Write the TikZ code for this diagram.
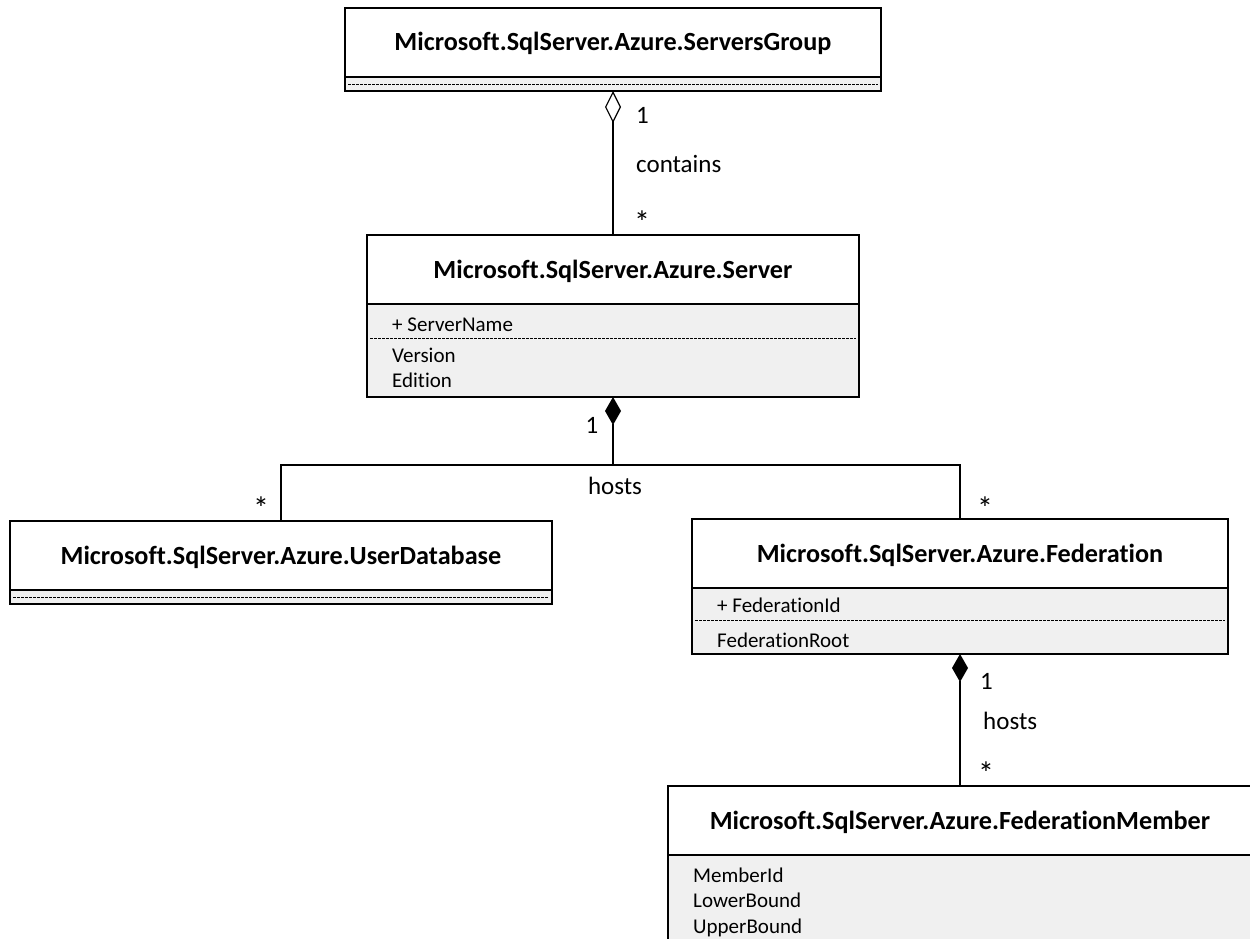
\documentclass[tikz,border=0pt]{standalone}
\usepackage{fontspec}
\setmainfont{Carlito}[Ligatures={NoCommon}]
\usetikzlibrary{arrows.meta}
\definecolor{compgray}{HTML}{F0F0F0}
\tikzset{
 umlbox/.style={draw=black, line width=1.4pt, inner sep=0pt, outer sep=0pt, anchor=north west},
 title/.style={font=\bfseries\fontsize{26.2}{30}\selectfont, anchor=base, inner sep=0pt},
 attr/.style={font=\fontsize{21}{25}\selectfont, anchor=base west, inner sep=0pt},
 lbl/.style={font=\fontsize{25}{30}\selectfont, anchor=base west, inner sep=0pt},
 star/.style={font=\fontsize{32}{36}\selectfont, anchor=base, inner sep=0pt},
 sepline/.style={line width=1.4pt},
 dsep/.style={line width=0.8pt, dash pattern=on 2.5pt off 1.5pt},
 conn/.style={line width=1.4pt},
 agg/.style={{Diamond[open,length=32pt,width=16pt,line width=1.2pt]}-},
 compo/.style={{Diamond[length=28pt,width=16pt]}-},
}
\begin{document}
\begin{tikzpicture}[x=1pt,y=-1pt]
\clip (0,0) rectangle (1250,939);
\fill[white] (0,0) rectangle (1250,939);

% ServersGroup
\fill[white] (345,8) rectangle (881,77);
\fill[compgray] (345,77) rectangle (881,91);
\node[umlbox, minimum width=536pt, minimum height=83pt] (sg) at (345,8) {};
\draw[sepline] (345,77) -- (881,77);
\draw[dsep] (348,84) -- (878,84);
\node[title] (sgt) at (613,51) {Microsoft.SqlServer.Azure.ServersGroup};

% Server
\fill[white] (367,235) rectangle (859,304);
\fill[compgray] (367,304) rectangle (859,397);
\node[umlbox, minimum width=492pt, minimum height=162pt] (srv) at (367,235) {};
\draw[sepline] (367,304) -- (859,304);
\draw[dsep] (370,338) -- (856,338);
\node[title] (srvt) at (613,278) {Microsoft.SqlServer.Azure.Server};
\node[attr] (srva1) at (392,331) {+ ServerName};
\node[attr] (srva2) at (392,362) {Version};
\node[attr] (srva3) at (392,387) {Edition};

% UserDatabase
\fill[white] (10,521) rectangle (552,590);
\fill[compgray] (10,590) rectangle (552,604);
\node[umlbox, minimum width=542pt, minimum height=83pt] (udb) at (10,521) {};
\draw[sepline] (10,590) -- (552,590);
\draw[dsep] (13,597) -- (549,597);
\node[title] (udbt) at (281,564) {Microsoft.SqlServer.Azure.UserDatabase};

% Federation
\fill[white] (692,519) rectangle (1228,588);
\fill[compgray] (692,588) rectangle (1228,654);
\node[umlbox, minimum width=536pt, minimum height=135pt] (fed) at (692,519) {};
\draw[sepline] (692,588) -- (1228,588);
\draw[dsep] (695,620) -- (1225,620);
\node[title] (fedt) at (960,562) {Microsoft.SqlServer.Azure.Federation};
\node[attr] (feda1) at (717,612) {+ FederationId};
\node[attr] (feda2) at (717,647) {FederationRoot};

% FederationMember
\fill[white] (668,786) rectangle (1252,855);
\fill[compgray] (668,855) rectangle (1252,990);
\node[umlbox, minimum width=584pt, minimum height=204pt] (fm) at (668,786) {};
\draw[sepline] (668,855) -- (1252,855);
\node[title] (fmt) at (960,829) {Microsoft.SqlServer.Azure.FederationMember};
\node[attr] (fma1) at (693,882) {MemberId};
\node[attr] (fma2) at (693,907) {LowerBound};
\node[attr] (fma3) at (693,933) {UpperBound};

% connectors
\draw[conn, agg] (sg.south) -- (srv.north);
\coordinate (hub) at (613,465);
\draw[conn, compo] (srv.south) -- (hub);
\draw[conn, line join=miter] (udb.north) |- (hub) -| (fed.north);
\draw[conn, compo] (fed.south) -- (fm.north);

% labels
\node[lbl] (l1) at (636,124) {1};
\node[lbl] (l2) at (636,172) {contains};
\node[star] (l3) at (642,233.5) {*};
\node[lbl, anchor=base] (l4) at (592,433) {1};
\node[lbl, anchor=base] (l5) at (615,494) {hosts};
\node[star] (l6) at (261,519.5) {*};
\node[star] (l7) at (985,519.5) {*};
\node[lbl] (l8) at (980,689) {1};
\node[lbl] (l9) at (983,729) {hosts};
\node[star] (l10) at (986,784.5) {*};
\end{tikzpicture}
\end{document}
